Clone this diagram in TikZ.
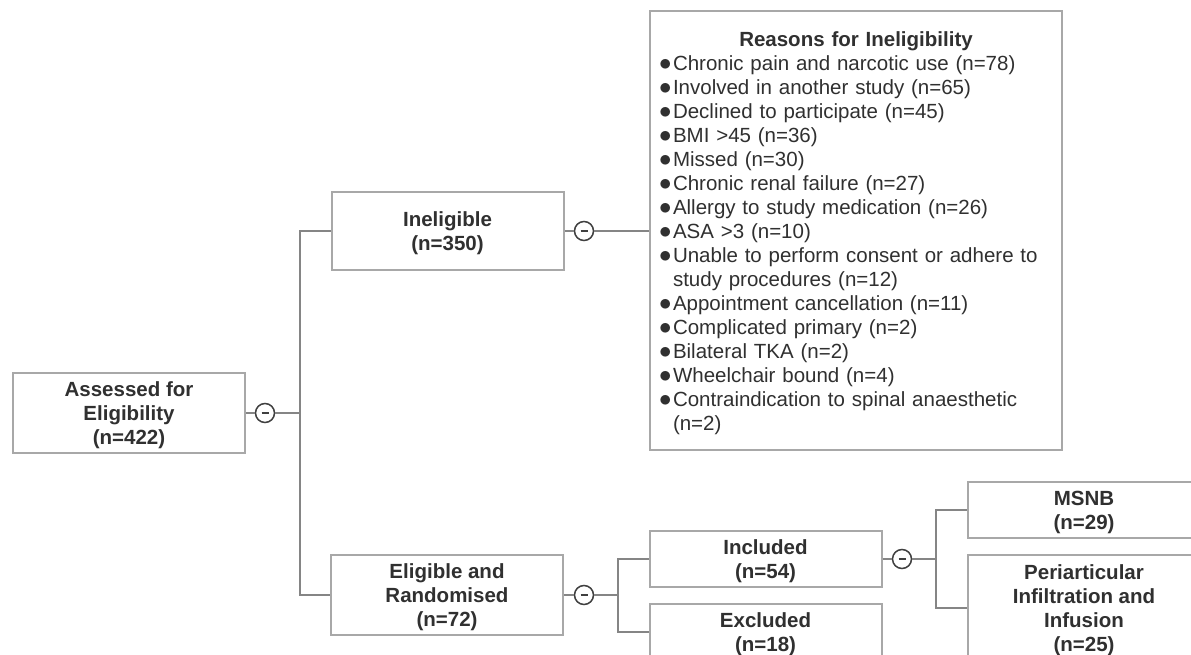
\documentclass[tikz,border=0pt]{standalone}
\usepackage{fontspec}
\setmainfont{Liberation Sans}
\usepackage{tikz}
\usetikzlibrary{calc}
\definecolor{fc-line}{HTML}{858585}
\definecolor{fc-border}{HTML}{A8A8A8}
\definecolor{fc-text}{HTML}{303030}
\definecolor{fc-knob}{HTML}{404040}
\newcommand{\reasonitem}[1]{\par\hangindent=14pt\hangafter=1\noindent\makebox[14pt][l]{\fontsize{25}{24}\selectfont$\bullet$}#1\par}

\begin{document}
\begin{tikzpicture}[x=1pt, y=-1pt,
    font=\fontsize{20.5}{24}\selectfont,
    box/.style={draw=fc-border, line width=2pt, fill=white, text=fc-text, font=\fontsize{20.5}{24}\selectfont\bfseries, align=center, minimum width=232pt, inner sep=0pt, text depth=-6pt},
    knob/.style={circle, draw=fc-knob, line width=1.5pt, fill=white, text=fc-knob, minimum size=19pt, inner sep=0pt},
    link/.style={draw=fc-line, line width=2pt}]
    \useasboundingbox (0,0) rectangle (1191,655);
    \clip (0,0) rectangle (1191,655);
    \node[box, minimum height=80pt] (assess) at (129,413) {Assessed for\\Eligibility\\(n=422)};
    \node[box, minimum height=77pt] (inelig) at (447.5,231) {Ineligible\\(n=350)};
    \node[box, minimum height=80pt] (elig) at (447,595) {Eligible and\\Randomised\\(n=72)};
    \node[box, minimum height=56pt] (incl) at (765.5,559) {Included\\(n=54)};
    \node[box, minimum height=56pt] (excl) at (765.5,632) {Excluded\\(n=18)};
    \node[box, minimum height=56pt] (msnb) at (1084,510) {MSNB\\(n=29)};
    \node[box, minimum height=106pt] (peri) at (1084,608) {Periarticular\\Infiltration and\\Infusion\\(n=25)};
    \node[box, text depth=, font=\fontsize{20.5}{24}\selectfont, minimum width=412pt, minimum height=439pt, inner xsep=9pt, text width=394pt, align=left] (reasons) at (856,230.5) {\makebox[\linewidth]{\rule{0pt}{21pt}\bfseries Reasons for Ineligibility}
        \reasonitem{Chronic pain and narcotic use (n=78)}
        \reasonitem{Involved in another study (n=65)}
        \reasonitem{Declined to participate (n=45)}
        \reasonitem{BMI >45 (n=36)}
        \reasonitem{Missed (n=30)}
        \reasonitem{Chronic renal failure (n=27)}
        \reasonitem{Allergy to study medication (n=26)}
        \reasonitem{ASA >3 (n=10)}
        \reasonitem{Unable to perform consent or adhere to\newline study procedures (n=12)}
        \reasonitem{Appointment cancellation (n=11)}
        \reasonitem{Complicated primary (n=2)}
        \reasonitem{Bilateral TKA (n=2)}
        \reasonitem{Wheelchair bound (n=4)}
        \reasonitem{Contraindication to spinal anaesthetic\newline (n=2)}};
    \coordinate (j1) at (300,413);
    \coordinate (j2) at (618,595);
    \coordinate (j3) at (936,559);
    \draw[link] (j1) |- (inelig);
    \draw[link] (j1) |- (elig);
    \draw[link] (j2) |- (incl);
    \draw[link] (j2) |- (excl);
    \draw[link] (j3) |- (msnb);
    \draw[link] (j3) |- (peri);
    \node[knob] (k1) at (265,413) {\rule{7pt}{2.2pt}};
    \node[knob] (k2) at (584,231) {\rule{7pt}{2.2pt}};
    \node[knob] (k3) at (584,595) {\rule{7pt}{2.2pt}};
    \node[knob] (k4) at (902,559) {\rule{7pt}{2.2pt}};
    \draw[link] (assess) -- (k1);
    \draw[link] (k1) -- (j1);
    \draw[link] (inelig) -- (k2);
    \draw[link] (k2) -- (k2 -| reasons.west);
    \draw[link] (elig) -- (k3);
    \draw[link] (k3) -- (j2);
    \draw[link] (incl) -- (k4);
    \draw[link] (k4) -- (j3);
\end{tikzpicture}
\end{document}
